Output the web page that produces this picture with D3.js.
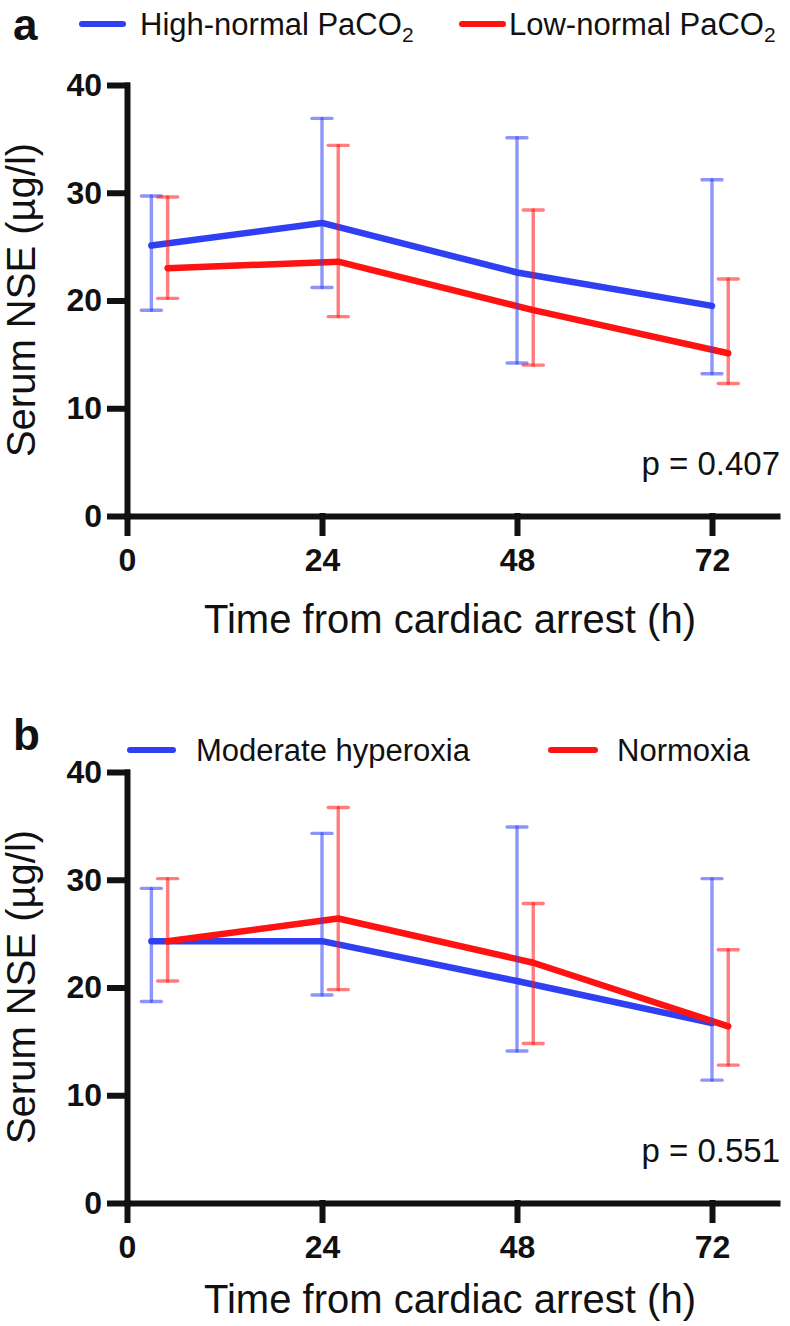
<!DOCTYPE html>
<html>
<head>
<meta charset="utf-8">
<script src="https://cdn.jsdelivr.net/npm/d3@7"></script>
<style>
  body { margin: 0; background: #fff; }
  svg text { font-family: "Liberation Sans", Arial, sans-serif; fill: #111; }
  .axis path, .axis line { stroke: #111; stroke-width: 6; stroke-linecap: square; }
  .axis text { font-weight: bold; font-size: 32px; fill: #111; }
</style>
</head>
<body>
<svg id="chart" width="790" height="1326"></svg>
<script>
// hours after cardiac arrest (each group sampled at slightly different times)
var tickHours = [0, 24, 48, 72],
    yTicks = [0, 10, 20, 30, 40];

// panel a
var highHours = [3, 24, 48, 72],
    highMean = [25.1, 27.2, 22.6, 19.5],
    highLo = [19.1, 21.2, 14.2, 13.2],
    highHi = [29.7, 36.9, 35.1, 31.2];
var lowHours = [5, 26, 50, 74],
    lowMean = [23.0, 23.6, 19.1, 15.1],
    lowLo = [20.2, 18.5, 14.0, 12.3],
    lowHi = [29.6, 34.4, 28.4, 22.0];

// panel b
var hyperHours = [3, 24, 48, 72],
    hyperMean = [24.3, 24.3, 20.6, 16.7],
    hyperLo = [18.7, 19.3, 14.1, 11.4],
    hyperHi = [29.2, 34.3, 34.9, 30.1];
var normoHours = [5, 26, 50, 74],
    normoMean = [24.3, 26.4, 22.3, 16.4],
    normoLo = [20.6, 19.8, 14.8, 12.8],
    normoHi = [30.1, 36.7, 27.8, 23.5];

var blue = "#2f3ff2", red = "#ff1212";

var svg = d3.select("#chart");

var x = d3.scaleLinear().domain([0, 80]).range([127, 777]);

function series(hours, mean, lo, hi) {
  return hours.map((h, i) => ({h: h, m: mean[i], lo: lo[i], hi: hi[i]}));
}

function drawPanel(p) {
  var y = d3.scaleLinear().domain([0, 40]).range([p.bottom, p.bottom - 431]);
  var g = svg.append("g");

  // panel letter
  g.append("text").attr("x", 13).attr("y", p.letterY)
    .style("font-size", "44px").style("font-weight", "bold").text(p.letter);

  // legend
  p.legend.forEach(l => {
    g.append("line").attr("x1", l.x1).attr("x2", l.x2)
      .attr("y1", p.legendY - 11).attr("y2", p.legendY - 11)
      .attr("stroke", l.color).attr("stroke-width", 6).attr("stroke-linecap", "round");
    var t = g.append("text").attr("x", l.tx).attr("y", p.legendY).style("font-size", "31px").text(l.label);
    if (l.sub) t.append("tspan").attr("dy", 7).style("font-size", "21px").text(l.sub);
  });

  // axes
  g.append("g").attr("class", "axis")
    .attr("transform", "translate(0," + p.bottom + ")")
    .call(d3.axisBottom(x).tickValues(tickHours).tickSize(17).tickSizeOuter(0).tickPadding(15));
  g.append("g").attr("class", "axis")
    .attr("transform", "translate(127,0)")
    .call(d3.axisLeft(y).tickValues(yTicks).tickSize(17).tickSizeOuter(0).tickPadding(8));

  // axis titles
  g.append("text").attr("x", 450).attr("y", p.bottom + p.titleGap)
    .attr("text-anchor", "middle").style("font-size", "40px")
    .text("Time from cardiac arrest (h)");
  g.append("text")
    .attr("transform", "translate(35," + (p.bottom - 216) + ") rotate(-90)")
    .attr("text-anchor", "middle").style("font-size", "40px")
    .text("Serum NSE (µg/l)");

  var line = d3.line().x(d => x(d.h)).y(d => y(d.m));

  p.groups.forEach(s => {
    g.append("path").datum(s.data)
      .attr("fill", "none").attr("stroke", s.color).attr("stroke-width", 6.5)
      .attr("stroke-linecap", "round").attr("stroke-linejoin", "round")
      .attr("d", line);
  });

  // error bars on top, semi-transparent
  p.groups.forEach(s => {
    var eb = g.append("g").attr("stroke", s.color).attr("stroke-opacity", 0.55)
      .attr("stroke-width", 3.4).attr("stroke-linecap", "round");
    eb.selectAll(".v").data(s.data).enter().append("line")
      .attr("x1", d => x(d.h)).attr("x2", d => x(d.h))
      .attr("y1", d => y(d.lo)).attr("y2", d => y(d.hi));
    ["lo", "hi"].forEach(k => {
      eb.selectAll(".c" + k).data(s.data).enter().append("line")
        .attr("x1", d => x(d.h) - 10).attr("x2", d => x(d.h) + 10)
        .attr("y1", d => y(d[k])).attr("y2", d => y(d[k]));
    });
  });

  g.append("text").attr("x", 780).attr("y", p.bottom - 41)
    .attr("text-anchor", "end").style("font-size", "33px").text(p.pval);
}

drawPanel({
  letter: "a", letterY: 40, legendY: 35, bottom: 516, titleGap: 117, pval: "p = 0.407",
  legend: [
    {x1: 82, x2: 123, tx: 140, color: blue, label: "High-normal PaCO", sub: "2"},
    {x1: 462, x2: 503, tx: 509, color: red, label: "Low-normal PaCO", sub: "2"}
  ],
  groups: [
    {color: blue, data: series(highHours, highMean, highLo, highHi)},
    {color: red, data: series(lowHours, lowMean, lowLo, lowHi)}
  ]
});

drawPanel({
  letter: "b", letterY: 750, legendY: 761, bottom: 1203, titleGap: 110, pval: "p = 0.551",
  legend: [
    {x1: 130, x2: 173, tx: 196, color: blue, label: "Moderate hyperoxia"},
    {x1: 551, x2: 595, tx: 617, color: red, label: "Normoxia"}
  ],
  groups: [
    {color: blue, data: series(hyperHours, hyperMean, hyperLo, hyperHi)},
    {color: red, data: series(normoHours, normoMean, normoLo, normoHi)}
  ]
});
</script>
</body>
</html>
